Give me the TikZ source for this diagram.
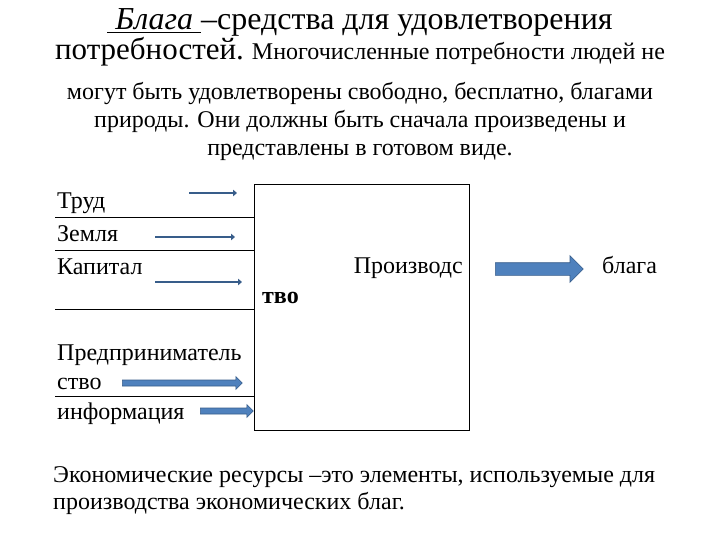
\documentclass[tikz,border=0pt]{standalone}
\usepackage{fontspec}
\setmainfont{LiberationSerif}[Extension=.ttf,UprightFont=*-Regular,BoldFont=*-Bold,ItalicFont=*-Italic,BoldItalicFont=*-BoldItalic]
\usetikzlibrary{shapes.arrows,arrows.meta}
\definecolor{arrblue}{HTML}{4F81BD}
\definecolor{arrdark}{HTML}{385D8A}
\tikzset{
  txt/.style={anchor=base west,inner sep=0pt,font=\fontsize{24}{28}\selectfont},
  ctr/.style={anchor=base,inner sep=0pt,font=\fontsize{24}{28}\selectfont},
  thinarr/.style={draw=arrdark,line width=2.6pt,-{Triangle[length=4pt,width=6.5pt]}},
  blockarr/.style={single arrow,draw=arrdark,fill=arrblue,line width=0.6pt,inner xsep=0pt,
    single arrow tip angle=90,minimum height=#1,minimum width=0pt},
  sep/.style={draw=black,line width=0.8pt}
}
\begin{document}
\begin{tikzpicture}[x=1pt,y=-1pt]
\useasboundingbox[fill=white] (0,0) rectangle (720,540);
% heading
\node[ctr,font=\fontsize{32}{36}\selectfont] (h1) at (360,30) {\underline{\textit{\ Блага\ }}–средства для удовлетворения};
\node[ctr] (h2) at (360,60) {{\fontsize{31}{35}\selectfont потребностей.} Многочисленные потребности людей не};
\node[ctr] (h3) at (360,100) {могут быть удовлетворены свободно, бесплатно, благами};
\node[ctr] (h4) at (360,128) {природы. Они должны быть сначала произведены и};
\node[ctr] (h5) at (360,156) {представлены в готовом виде.};
% box
\node[draw,line width=0.8pt,minimum width=215pt,minimum height=246pt,anchor=north west,inner sep=0pt] (box) at (254,184) {};
\node[txt,anchor=base east] (p1) at (463,273) {Производс};
\node[txt,font=\fontsize{24}{28}\selectfont\bfseries] (p2) at (262,303) {тво};
% separators
\coordinate (s1) at (55,217); \coordinate (s2) at (55,250);
\coordinate (s3) at (55,309); \coordinate (s4) at (55,396);
\draw[sep] (s1) -- (s1 -| box.west);
\draw[sep] (s2) -- (s2 -| box.west);
\draw[sep] (s3) -- (s3 -| box.west);
\draw[sep] (s4) -- (s4 -| box.west);
% labels
\node[txt] (l1) at (57,209) {Труд};
\node[txt] (l2) at (57,241) {Земля};
\node[txt] (l3) at (57,274) {Капитал};
\node[txt] (l4) at (57,360) {Предприниматель};
\node[txt] (l5) at (57,389) {ство};
\node[txt] (l6) at (57,419) {информация};
% thin arrows
\coordinate (a1s) at (189,193); \coordinate (a1e) at (237,193);
\coordinate (a2s) at (155,237); \coordinate (a2e) at (235,237);
\coordinate (a3s) at (155,282); \coordinate (a3e) at (242,282);
\draw[thinarr] (a1s) -- (a1e);
\draw[thinarr] (a2s) -- (a2e);
\draw[thinarr] (a3s) -- (a3e);
% block arrows
\node[blockarr=120pt,inner ysep=2.7pt,single arrow head extend=3.5pt,anchor=west] (b1) at (122,383) {};
\node[blockarr=53pt,inner ysep=2.7pt,single arrow head extend=3.5pt,anchor=west] (b2) at (200,411) {};
\node[blockarr=88pt,inner ysep=6pt,single arrow head extend=7pt,anchor=west] (b3) at (495,269) {};
\node[txt] (g) at (602,273) {блага};
% bottom
\node[txt] (f1) at (53,482) {Экономические ресурсы –это элементы, используемые для};
\node[txt] (f2) at (53,509) {производства экономических благ.};
\end{tikzpicture}
\end{document}
